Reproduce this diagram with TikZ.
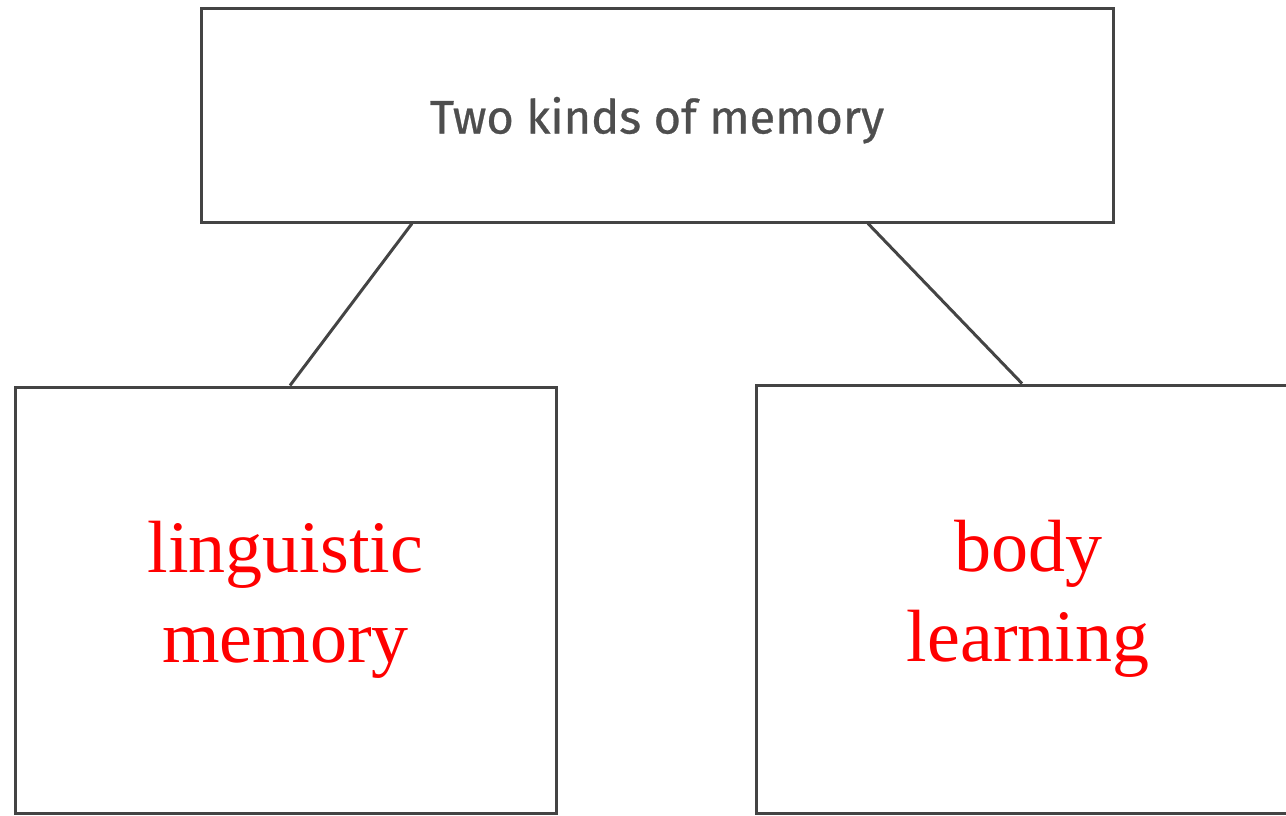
\documentclass[tikz,border=0pt]{standalone}
\usepackage{fontspec}
\setmainfont{Liberation Serif}
\newfontfamily\labelfont[FakeBold=0.6]{Fira Sans}
\definecolor{linegray}{RGB}{68,68,68}
\definecolor{textgray}{RGB}{78,78,78}
\definecolor{redtext}{RGB}{255,0,0}
\tikzset{
  box/.style={draw=linegray, line width=3pt, fill=white, inner sep=0pt},
  conn/.style={draw=linegray, line width=3pt},
  redlabel/.style={text=redtext, font=\fontsize{74}{90}\selectfont, align=center},
}
\begin{document}
\begin{tikzpicture}[x=1pt,y=-1pt]
\useasboundingbox (0,0) rectangle (1286,816);
\node[box, minimum width=912pt, minimum height=213pt, text height=46pt, text depth=10pt,
      text=textgray, font=\labelfont\fontsize{47}{56}\selectfont] (T) at (657,115.5) {Two kinds of memory};
\node[box, minimum width=541pt, minimum height=426pt, redlabel] (L) at (285.5,600) {linguistic\\memory};
\node[box, minimum width=538pt, minimum height=428pt, redlabel] (R) at (1025,599) {\hspace*{6pt}body\\\hspace*{6pt}learning};
\draw[conn] (T.south -| 412,0) -- (L.north -| 290,0);
\draw[conn] (T.south -| 868,0) -- (R.north -| 1022,0);
\end{tikzpicture}
\end{document}
